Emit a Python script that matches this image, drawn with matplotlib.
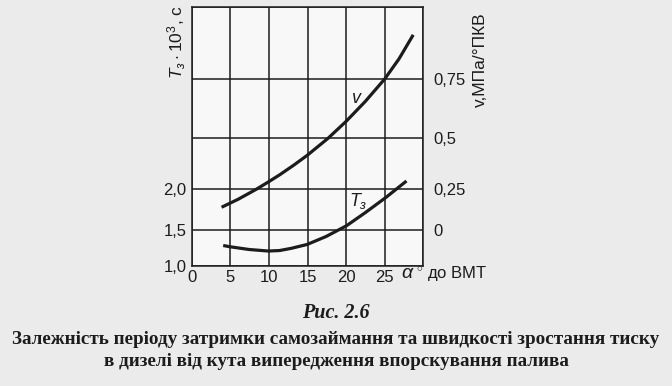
import numpy as np
from matplotlib import pyplot as plt

plt.rcParams['font.family'] = ['Liberation Sans', 'DejaVu Sans']
plt.rcParams['mathtext.fontset'] = 'custom'
plt.rcParams['mathtext.rm'] = 'Liberation Sans'
plt.rcParams['mathtext.it'] = 'Liberation Sans:italic'

# data
alpha_v = [3.89, 6.05, 8.39, 9.88, 11.39, 13.17, 14.95, 17.64, 19.97, 22.46, 24.99, 26.83, 28.67]
v = [0.138, 0.188, 0.25, 0.284, 0.320, 0.366, 0.415, 0.498, 0.570, 0.655, 0.751, 0.820, 0.903]

alpha_t = [4.1, 4.95, 7.45, 9.94, 11.4, 12.9, 14.95, 17.4, 20.05, 22.5, 25.1, 27.8]
t_z = [1.281, 1.264, 1.226, 1.205, 1.212, 1.242, 1.295, 1.404, 1.547, 1.711, 1.895, 2.08]

x_ticks = [0, 5, 10, 15, 20, 25, 30]
x_labels = ['0', '5', '10', '15', '20', '25', '']
t_ticks = [1.0, 1.5, 2.0, 2.5, 3.0, 3.5]
t_labels = ['1,0', '1,5', '2,0', '', '', '']
v_ticks = [-0.25, 0, 0.25, 0.5, 0.75, 1.0]
v_labels = ['', '0', '0,25', '0,5', '0,75', '']

# the scanned grid rows are not even, so map each row by hand
row_px = [0, 36.5, 76.8, 128, 186.8, 259.3]

def make_scale(knots):
    fwd = lambda y: np.interp(y, knots, row_px)
    inv = lambda p: np.interp(p, row_px, knots)
    return fwd, inv

ink = '#1c1c1c'
fig = plt.figure(figsize=(6.72, 3.86), dpi=100, facecolor='#ebebeb')
ax = fig.add_axes([191.5/672, 120/386, 232/672, 259.3/386])
ax.set_facecolor('#f8f8f8')

ax.set_yscale('function', functions=make_scale(t_ticks))
ax.set_xlim(0, 30)
ax.set_ylim(1.0, 3.5)
ax.set_xticks(x_ticks)
ax.set_xticklabels(x_labels)
ax.set_yticks(t_ticks)
ax.set_yticklabels(t_labels)
ax.grid(True, color=ink, linewidth=1.1)
ax.tick_params(axis='both', length=0, labelsize=12, colors=ink)
ax.tick_params(axis='y', pad=3.5)
ax.tick_params(axis='x', pad=3)
for s in ax.spines.values():
    s.set_color(ink)
    s.set_linewidth(1.1)

ax2 = ax.twinx()
ax2.set_yscale('function', functions=make_scale(v_ticks))
ax2.set_ylim(-0.25, 1.0)
ax2.set_yticks(v_ticks)
ax2.set_yticklabels(v_labels)
ax2.tick_params(axis='y', length=0, labelsize=12, pad=7, colors=ink)
for s in ax2.spines.values():
    s.set_visible(False)

ax.plot(alpha_t, t_z, color=ink, linewidth=2.3, solid_capstyle='butt', solid_joinstyle='round')
ax2.plot(alpha_v, v, color=ink, linewidth=2.3, solid_capstyle='butt', solid_joinstyle='round')

ax2.text(21.4, 0.67, r'$v$', fontsize=13, color=ink, ha='center', va='center')
ax.text(21.6, 1.85, r'$T_з$', fontsize=13, color=ink, ha='center', va='center')

fig.text(177/672, (386-42)/386, r'$T_з\cdot 10^3$, с', rotation=90, fontsize=12.5,
         color=ink, ha='center', va='center')
fig.text(480/672, (386-60)/386, 'v,МПа/°ПКВ', rotation=90, fontsize=12.5,
         color=ink, ha='center', va='center')
fig.text(401/672, 108/386, r'$\alpha$', fontsize=14, color=ink, ha='left', va='baseline')
fig.text(416/672, 108/386, r'$^{\circ}$ до ВМТ', fontsize=12, color=ink,
         ha='left', va='baseline')

fig.text(0.5, (386-313)/386, 'Рис. 2.6', family='Liberation Serif', weight='bold',
         style='italic', fontsize=14.5, color=ink, ha='center', va='center')
fig.text(0.5, (386-340)/386,
         'Залежність періоду затримки самозаймання та швидкості зростання тиску',
         family='Liberation Serif', weight='bold', fontsize=13.8, color=ink,
         ha='center', va='center')
fig.text(0.5, (386-361)/386, 'в дизелі від кута випередження впорскування палива',
         family='Liberation Serif', weight='bold', fontsize=13.8, color=ink,
         ha='center', va='center')

fig.savefig('out.png', dpi=100, facecolor=fig.get_facecolor())
